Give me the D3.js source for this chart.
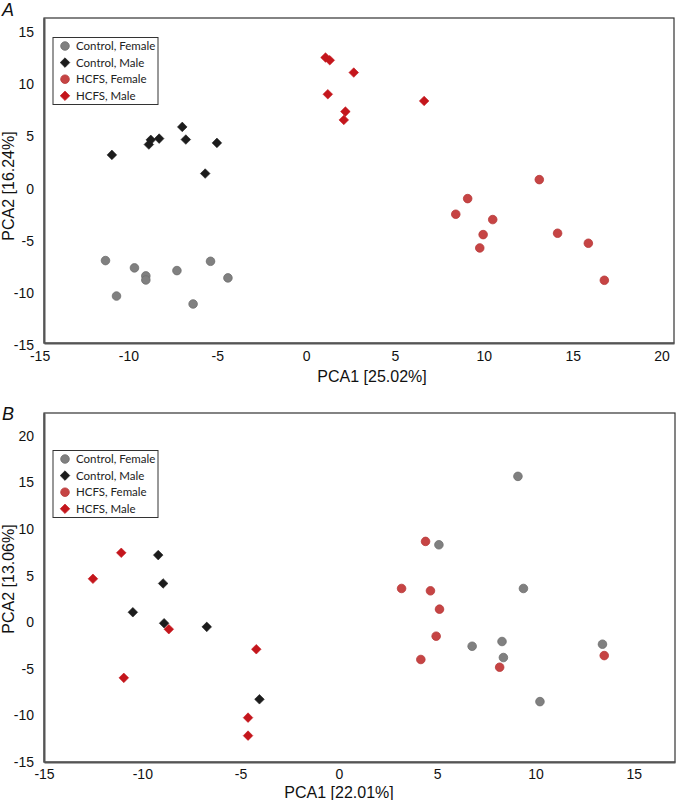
<!DOCTYPE html>
<html>
<head>
<meta charset="utf-8">
<script src="https://cdn.jsdelivr.net/npm/d3@7"></script>
<style>
  html, body { margin: 0; padding: 0; background: #fff; }
  svg { display: block; }
</style>
</head>
<body>
<svg id="chart" width="676" height="800"></svg>
<script>
// ---------- DATA ----------
const seriesNames = ["Control, Female", "Control, Male", "HCFS, Female", "HCFS, Male"];
const xTicksA = [-15, -10, -5, 0, 5, 10, 15, 20];
const yTicksA = [-15, -10, -5, 0, 5, 10, 15];
const xTicksB = [-15, -10, -5, 0, 5, 10, 15];
const yTicksB = [-15, -10, -5, 0, 5, 10, 15, 20];

// Panel A
const A_ctrlF_x = [-11.29, -9.66, -9.02, -9.02, -10.67, -7.27, -5.38, -4.40, -6.36];
const A_ctrlF_y = [-6.9, -7.6, -8.37, -8.76, -10.3, -7.86, -6.97, -8.56, -11.06];
const A_ctrlM_x = [-10.93, -8.85, -8.74, -8.27, -6.97, -6.77, -5.02, -5.68];
const A_ctrlM_y = [3.23, 4.22, 4.67, 4.79, 5.91, 4.70, 4.38, 1.44];
const A_hcfsF_x = [13.12, 9.09, 8.42, 10.5, 9.96, 9.77, 14.15, 15.88, 16.78];
const A_hcfsF_y = [0.86, -0.96, -2.46, -2.97, -4.41, -5.69, -4.28, -5.24, -8.79];
const A_hcfsM_x = [1.09, 1.33, 2.68, 1.22, 2.21, 2.12, 6.64];
const A_hcfsM_y = [12.56, 12.3, 11.12, 9.04, 7.38, 6.58, 8.4];

// Panel B
const B_ctrlF_x = [9.11, 5.09, 9.39, 6.78, 8.3, 8.37, 10.23, 13.41];
const B_ctrlF_y = [15.65, 8.31, 3.62, -2.58, -2.07, -3.79, -8.52, -2.36];
const B_ctrlM_x = [-9.19, -8.94, -10.48, -8.89, -6.72, -4.04];
const B_ctrlM_y = [7.2, 4.16, 1.07, -0.11, -0.5, -8.27];
const B_hcfsF_x = [4.41, 3.19, 4.66, 5.12, 4.95, 4.17, 8.18, 13.5];
const B_hcfsF_y = [8.67, 3.62, 3.37, 1.4, -1.5, -4.0, -4.83, -3.58];
const B_hcfsM_x = [-11.07, -12.51, -8.65, -4.20, -10.94, -4.62, -4.62];
const B_hcfsM_y = [7.45, 4.66, -0.75, -2.9, -5.97, -10.24, -12.17];

// ---------- STYLES ----------
const styles = [
  { shape: "circle",  fill: "#808080", stroke: "#6e6e6e" },
  { shape: "diamond", fill: "#1c1c1c", stroke: "#1c1c1c" },
  { shape: "circle",  fill: "#c64444", stroke: "#b83a3a" },
  { shape: "diamond", fill: "#c4161c", stroke: "#c4161c" }
];

const svg = d3.select("#chart");
const axisFont = "'Liberation Sans', Arial, sans-serif";
const legendFont = "Lato, 'Open Sans', sans-serif";

function zip(xs, ys) { return xs.map((x, i) => ({ x: x, y: ys[i] })); }

function drawMarker(g, s, cx, cy) {
  if (s.shape === "circle") {
    g.append("circle").attr("cx", cx).attr("cy", cy).attr("r", 4.3)
      .attr("fill", s.fill).attr("stroke", s.stroke).attr("stroke-width", 0.8);
  } else {
    const r = 4.8;
    g.append("path")
      .attr("d", `M${cx},${cy - r}L${cx + r},${cy}L${cx},${cy + r}L${cx - r},${cy}Z`)
      .attr("fill", s.fill).attr("stroke", s.stroke).attr("stroke-width", 0.6);
  }
}

function panel(cfg) {
  const x = d3.scaleLinear().domain(cfg.xDomain).range(cfg.xRange);
  const y = d3.scaleLinear().domain(cfg.yDomain).range(cfg.yRange);
  const g = svg.append("g");

  // frame
  g.append("rect")
    .attr("x", cfg.xRange[0]).attr("y", cfg.yRange[1])
    .attr("width", cfg.xRange[1] - cfg.xRange[0])
    .attr("height", cfg.yRange[0] - cfg.yRange[1])
    .attr("fill", "none").attr("stroke", "#333").attr("stroke-width", 1.2);

  // axes
  const xa = g.append("g").attr("transform", `translate(0,${cfg.yRange[0]})`)
    .call(d3.axisBottom(x).tickValues(cfg.xTicks).tickSize(0).tickPadding(cfg.xPad)
      .tickFormat(d => String(d)));
  const ya = g.append("g").attr("transform", `translate(${cfg.xRange[0]},0)`)
    .call(d3.axisLeft(y).tickValues(cfg.yTicks).tickSize(0).tickPadding(10)
      .tickFormat(d => String(d)));
  [xa, ya].forEach(a => {
    a.select(".domain").attr("stroke", "#555").attr("stroke-width", 2);
    a.selectAll("text").attr("font-family", axisFont).attr("font-size", 14).attr("fill", "#111");
  });

  // axis titles
  g.append("text").attr("x", cfg.xTitlePos[0]).attr("y", cfg.xTitlePos[1])
    .attr("text-anchor", "middle").attr("font-family", axisFont).attr("font-size", 16)
    .attr("fill", "#111").text(cfg.xTitle);
  g.append("text")
    .attr("transform", `translate(${cfg.yTitlePos[0]},${cfg.yTitlePos[1]}) rotate(-90)`)
    .attr("text-anchor", "middle").attr("font-family", axisFont).attr("font-size", 16)
    .attr("fill", "#111").text(cfg.yTitle);

  // panel letter
  g.append("text").attr("x", cfg.letterPos[0]).attr("y", cfg.letterPos[1])
    .attr("font-family", axisFont).attr("font-style", "italic").attr("font-size", 18)
    .attr("fill", "#111").text(cfg.letter);

  // points
  const pg = g.append("g");
  cfg.series.forEach((pts, i) => {
    pts.forEach(p => drawMarker(pg, styles[i], x(p.x), y(p.y)));
  });

  // legend
  const lg = g.append("g").attr("transform", `translate(${cfg.legendPos[0]},${cfg.legendPos[1]})`);
  lg.append("rect").attr("x", 0).attr("y", 0).attr("width", 105).attr("height", 67)
    .attr("fill", "#fff").attr("stroke", "#333").attr("stroke-width", 1);
  seriesNames.forEach((name, i) => {
    const cy = 8.5 + i * 16.6;
    drawMarker(lg, styles[i], 12, cy);
    lg.append("text").attr("x", 23).attr("y", cy).attr("dy", "0.35em")
      .attr("font-family", legendFont).attr("font-size", 11.5).attr("fill", "#222")
      .text(name);
  });
}

panel({
  xDomain: [-14.75, 20.7], xRange: [44, 674],
  yDomain: [-14.8, 16.35], yRange: [343, 18],
  xTicks: xTicksA, yTicks: yTicksA, xPad: 8,
  xTitle: "PCA1 [25.02%]", xTitlePos: [372, 382],
  yTitle: "PCA2 [16.24%]", yTitlePos: [14, 186],
  letter: "A", letterPos: [2, 16],
  legendPos: [53, 37.5],
  series: [zip(A_ctrlF_x, A_ctrlF_y), zip(A_ctrlM_x, A_ctrlM_y), zip(A_hcfsF_x, A_hcfsF_y), zip(A_hcfsM_x, A_hcfsM_y)]
});

panel({
  xDomain: [-15, 17.1], xRange: [44, 675],
  yDomain: [-15, 22.45], yRange: [762, 413],
  xTicks: xTicksB, yTicks: yTicksB, xPad: 7,
  xTitle: "PCA1 [22.01%]", xTitlePos: [339, 798],
  yTitle: "PCA2 [13.06%]", yTitlePos: [14, 579],
  letter: "B", letterPos: [2, 420],
  legendPos: [53, 450.5],
  series: [zip(B_ctrlF_x, B_ctrlF_y), zip(B_ctrlM_x, B_ctrlM_y), zip(B_hcfsF_x, B_hcfsF_y), zip(B_hcfsM_x, B_hcfsM_y)]
});
</script>
</body>
</html>
